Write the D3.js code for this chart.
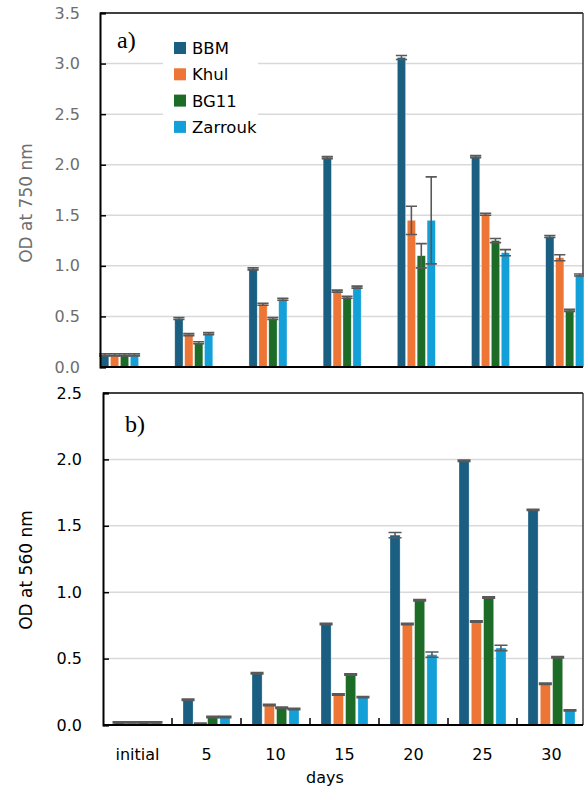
<!DOCTYPE html>
<html lang="en">

<head>
  <meta charset="UTF-8">
  <title>OD at 750 nm and 560 nm</title>
  <script src="https://d3js.org/d3.v7.min.js"></script>
  <style>
    body { margin: 0; background: #fff; }
    text { font-family: "DejaVu Sans", sans-serif; }
  </style>
</head>

<body>
  <script>
    const categories = ['initial', '5', '10', '15', '20', '25', '30'];
    const series = ['BBM', 'Khul', 'BG11', 'Zarrouk'];
    const colors = ['#1a5f81', '#ed7535', '#1c6b27', '#13a0d8'];

    // panel a) OD at 750 nm
    const od750 = [
      [0.12, 0.48, 0.97, 2.07, 3.06, 2.08, 1.29],   // BBM
      [0.12, 0.32, 0.62, 0.75, 1.45, 1.51, 1.08],   // Khul
      [0.12, 0.24, 0.48, 0.69, 1.10, 1.25, 0.56],   // BG11
      [0.12, 0.33, 0.67, 0.79, 1.45, 1.13, 0.91]    // Zarrouk
    ];
    const err750 = [
      [0.01, 0.01, 0.01, 0.01, 0.02, 0.01, 0.01],
      [0.01, 0.01, 0.01, 0.01, 0.14, 0.01, 0.03],
      [0.01, 0.01, 0.01, 0.01, 0.12, 0.02, 0.01],
      [0.01, 0.01, 0.01, 0.01, 0.43, 0.03, 0.01]
    ];
    const ticks750 = [0, 0.5, 1, 1.5, 2, 2.5, 3, 3.5];

    // panel b) OD at 560 nm
    const od560 = [
      [0.02, 0.19, 0.39, 0.76, 1.43, 1.99, 1.62],
      [0.02, 0.01, 0.15, 0.23, 0.76, 0.78, 0.31],
      [0.02, 0.06, 0.13, 0.38, 0.94, 0.96, 0.51],
      [0.02, 0.06, 0.12, 0.21, 0.53, 0.58, 0.11]
    ];
    const err560 = [
      [0.005, 0.005, 0.005, 0.005, 0.02, 0.005, 0.005],
      [0.005, 0.005, 0.005, 0.005, 0.005, 0.005, 0.005],
      [0.005, 0.005, 0.005, 0.005, 0.005, 0.005, 0.005],
      [0.005, 0.005, 0.005, 0.005, 0.02, 0.02, 0.005]
    ];
    const ticks560 = [0, 0.5, 1, 1.5, 2, 2.5];

    const w = 584;
    const h = 790;

    const svg = d3.select('body')
      .append('svg')
      .attr('width', w)
      .attr('height', h);

    function panel(opt) {
      const g = svg.append('g');

      const x0 = d3.scaleBand()
        .domain(categories)
        .range(opt.xRange);

      const x1 = d3.scaleBand()
        .domain(series)
        .range([-opt.groupHalf, opt.groupHalf])
        .paddingInner(opt.pad);

      const y = d3.scaleLinear()
        .domain([0, opt.max])
        .range([opt.bottom, opt.top]);

      // gridlines
      g.selectAll('.grid')
        .data(opt.ticks.filter(t => t > 0 && t < opt.max))
        .enter()
        .append('line')
        .attr('x1', opt.left)
        .attr('x2', opt.right)
        .attr('y1', d => y(d))
        .attr('y2', d => y(d))
        .attr('stroke', '#d9d9d9')
        .attr('stroke-width', 1.5);

      // legend background covers gridlines
      if (opt.legend) {
        g.append('rect')
          .attr('x', 163).attr('y', 30)
          .attr('width', 95).attr('height', 110)
          .attr('fill', '#fff');
      }

      // frame
      g.append('line')
        .attr('x1', opt.left).attr('x2', opt.right)
        .attr('y1', opt.top).attr('y2', opt.top)
        .attr('stroke', '#404040').attr('stroke-width', 2);
      g.append('line')
        .attr('x1', opt.right).attr('x2', opt.right)
        .attr('y1', opt.top).attr('y2', opt.bottom)
        .attr('stroke', '#404040').attr('stroke-width', 1.5);

      // bars
      series.forEach((s, i) => {
        const rows = categories.map((c, j) => ({ c: c, v: opt.values[i][j], e: opt.errors[i][j] }));
        const sg = g.append('g');

        sg.selectAll('rect')
          .data(rows)
          .enter()
          .append('rect')
          .attr('x', d => x0(d.c) + x0.bandwidth() / 2 + x1(s))
          .attr('y', d => y(d.v))
          .attr('width', x1.bandwidth())
          .attr('height', d => y(0) - y(d.v))
          .attr('fill', colors[i])
          .attr('stroke', '#fff')
          .attr('stroke-opacity', 0.5)
          .attr('stroke-width', 0.6);

        // error bars
        const cx = d => x0(d.c) + x0.bandwidth() / 2 + x1(s) + x1.bandwidth() / 2;
        const capW = x1.bandwidth() / 2 + 1.5;
        sg.selectAll('.eb')
          .data(rows)
          .enter()
          .append('path')
          .attr('d', d => {
            const yt = y(d.v + d.e), yb = y(d.v - d.e), c = cx(d);
            return 'M' + c + ',' + yt + 'V' + yb +
              'M' + (c - capW) + ',' + yt + 'H' + (c + capW) +
              'M' + (c - capW) + ',' + yb + 'H' + (c + capW);
          })
          .attr('fill', 'none')
          .attr('stroke', '#595959')
          .attr('stroke-width', 1.6);
      });

      // y axis
      const yAxis = g.append('g')
        .attr('transform', 'translate(' + opt.left + ',0)')
        .call(d3.axisLeft(y).tickValues(opt.ticks).tickFormat(d3.format('.1f'))
          .tickSize(-6).tickPadding(opt.tickPad));
      yAxis.select('.domain').attr('stroke', '#000').attr('stroke-width', 2);
      yAxis.selectAll('.tick line').attr('stroke', '#000').attr('stroke-width', 1.5);
      yAxis.selectAll('.tick text')
        .attr('font-size', 16)
        .attr('font-family', '"DejaVu Sans", sans-serif')
        .attr('fill', opt.textColor);

      // x axis line
      const xAxis = g.append('g')
        .attr('transform', 'translate(0,' + opt.bottom + ')');
      if (opt.xLabels) {
        xAxis.call(d3.axisBottom(x0).tickSize(0).tickPadding(24));
        xAxis.selectAll('.tick text')
          .attr('font-size', 16)
          .attr('font-family', '"DejaVu Sans", sans-serif')
          .attr('fill', '#000');
        xAxis.select('.domain').remove();
        // inner ticks at category boundaries
        xAxis.selectAll('.bound')
          .data(categories.slice(1))
          .enter()
          .append('line')
          .attr('x1', d => x0(d))
          .attr('x2', d => x0(d))
          .attr('y1', 0).attr('y2', -7)
          .attr('stroke', '#000').attr('stroke-width', 1.5);
      }
      xAxis.append('line')
        .attr('x1', opt.left).attr('x2', opt.right)
        .attr('y1', 0).attr('y2', 0)
        .attr('stroke', '#000').attr('stroke-width', 2);

      // y title
      g.append('text')
        .attr('transform', 'translate(' + opt.titleX + ',' + opt.titleY + ') rotate(-90)')
        .attr('text-anchor', 'middle')
        .attr('font-size', 17)
        .attr('fill', opt.textColor)
        .text(opt.title);

      // panel letter
      g.append('text')
        .attr('x', opt.letterX).attr('y', opt.letterY)
        .attr('font-size', 24)
        .style('font-family', '"Liberation Serif", "Times New Roman", serif')
        .attr('fill', '#000')
        .text(opt.letter);

      if (opt.legend) {
        const lg = g.selectAll('.leg')
          .data(series)
          .enter()
          .append('g')
          .attr('transform', (d, i) => 'translate(174,' + (48 + i * 26.3) + ')');
        lg.append('rect')
          .attr('x', 0).attr('y', -6)
          .attr('width', 12).attr('height', 12)
          .attr('fill', (d, i) => colors[i]);
        lg.append('text')
          .attr('x', 18).attr('y', 6)
          .attr('font-size', 16.5)
          .attr('fill', '#000')
          .text(d => d);
      }
    }

    panel({
      values: od750, errors: err750, ticks: ticks750, max: 3.5,
      xRange: [82.5, 601.8], groupHalf: 19, pad: 0.17,
      left: 100, right: 583, top: 13, bottom: 367, tickPad: 20,
      textColor: '#6e6e6e', title: 'OD at 750 nm', titleX: 32, titleY: 203,
      letter: 'a)', letterX: 117, letterY: 48, legend: true, xLabels: false
    });

    panel({
      values: od560, errors: err560, ticks: ticks560, max: 2.5,
      xRange: [103, 586], groupHalf: 23.5, pad: 0.18,
      left: 103, right: 583, top: 393, bottom: 725, tickPad: 21,
      textColor: '#000', title: 'OD at 560 nm', titleX: 32, titleY: 570,
      letter: 'b)', letterX: 125, letterY: 432, legend: false, xLabels: true
    });

    svg.append('text')
      .attr('x', 325).attr('y', 783)
      .attr('text-anchor', 'middle')
      .attr('font-size', 16)
      .attr('fill', '#000')
      .text('days');
  </script>
</body>

</html>
